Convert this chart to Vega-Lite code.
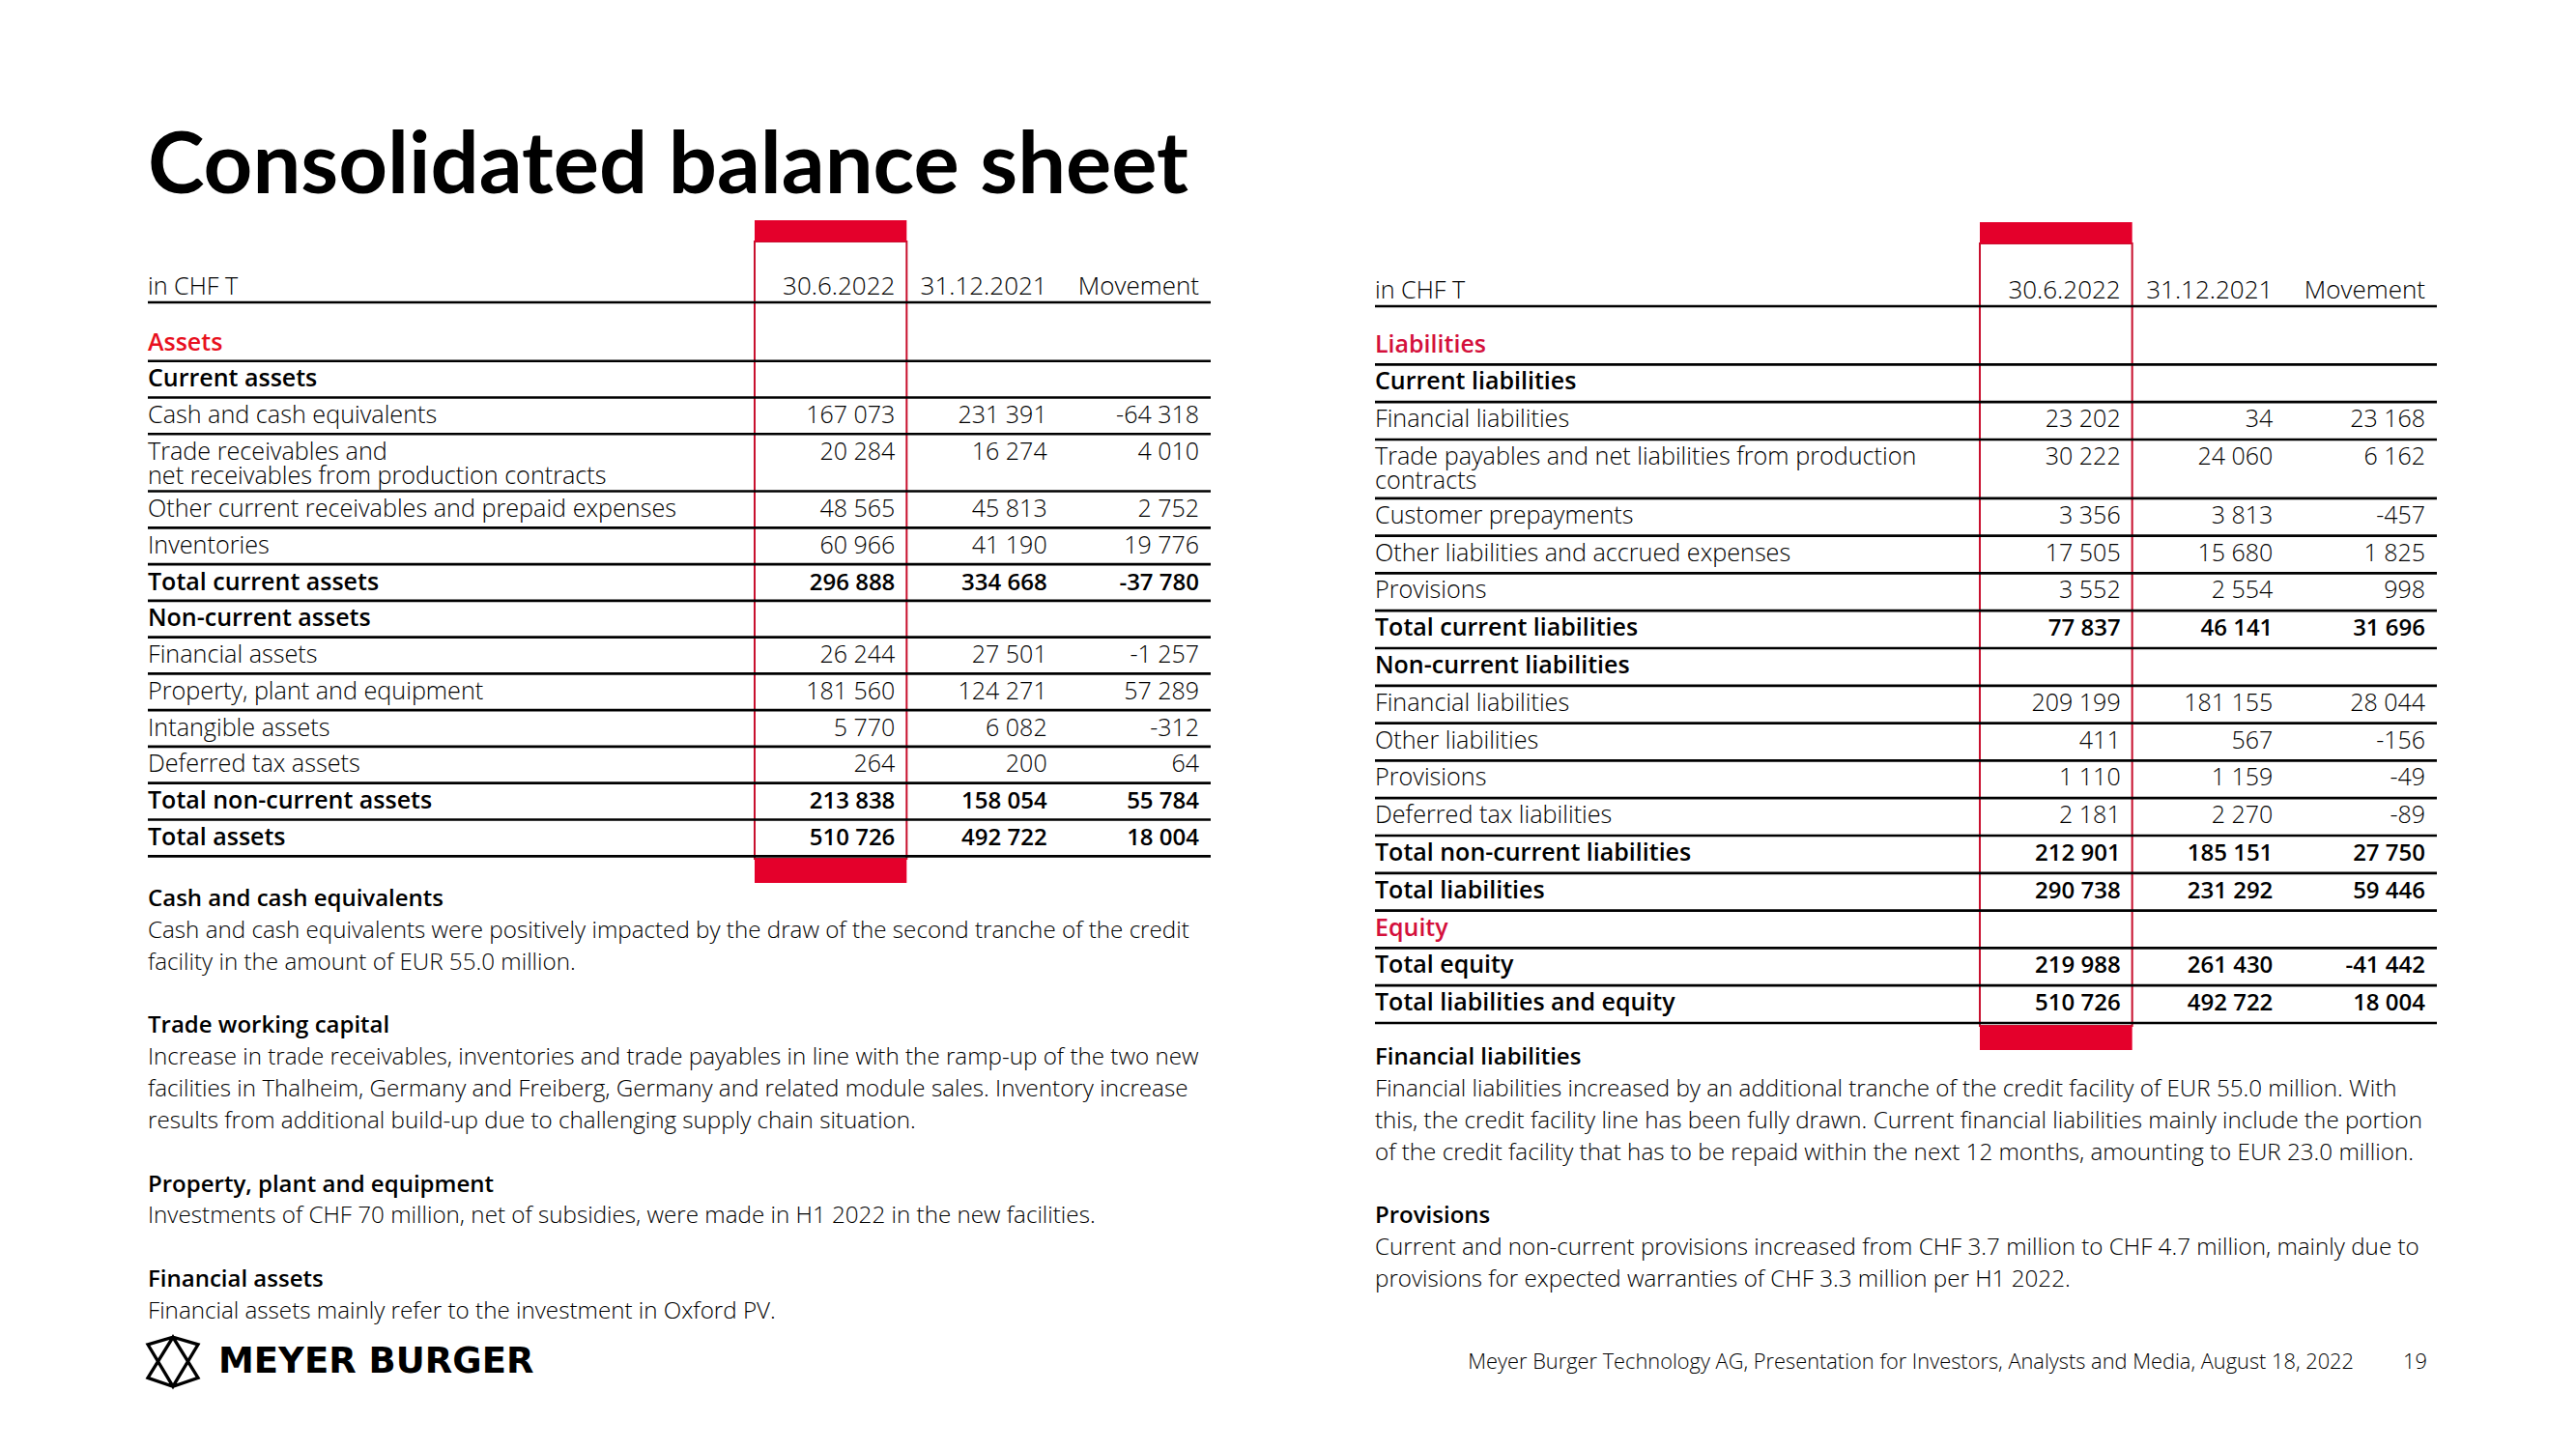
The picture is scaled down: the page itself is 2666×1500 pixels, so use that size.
{
  "$schema": "https://vega.github.io/schema/vega-lite/v6.json",
  "width": 2666,
  "height": 1500,
  "autosize": {"type": "fit", "contains": "padding"},
  "padding": 0,
  "background": "#ffffff",
  "config": {
    "view": {"stroke": null},
    "text": {"font": "Open Sans"},
    "locale": {"number": {"decimal": ".", "thousands": " ", "grouping": [3], "currency": ["", ""], "minus": "-"}}
  },
  "datasets": {
    "assets": [
      {"row": -1, "label": "in CHF T", "kind": "header"},
      {"row": 0, "label": "Assets", "kind": "section"},
      {"row": 1, "label": "Current assets", "kind": "group"},
      {"row": 2, "label": "Cash and cash equivalents", "kind": "item", "jun22": 167073, "dec21": 231391, "movement": -64318},
      {"row": 3, "label": "Trade receivables and\nnet receivables from production contracts", "kind": "item", "jun22": 20284, "dec21": 16274, "movement": 4010},
      {"row": 4, "label": "Other current receivables and prepaid expenses", "kind": "item", "jun22": 48565, "dec21": 45813, "movement": 2752},
      {"row": 5, "label": "Inventories", "kind": "item", "jun22": 60966, "dec21": 41190, "movement": 19776},
      {"row": 6, "label": "Total current assets", "kind": "total", "jun22": 296888, "dec21": 334668, "movement": -37780},
      {"row": 7, "label": "Non-current assets", "kind": "group"},
      {"row": 8, "label": "Financial assets", "kind": "item", "jun22": 26244, "dec21": 27501, "movement": -1257},
      {"row": 9, "label": "Property, plant and equipment", "kind": "item", "jun22": 181560, "dec21": 124271, "movement": 57289},
      {"row": 10, "label": "Intangible assets", "kind": "item", "jun22": 5770, "dec21": 6082, "movement": -312},
      {"row": 11, "label": "Deferred tax assets", "kind": "item", "jun22": 264, "dec21": 200, "movement": 64},
      {"row": 12, "label": "Total non-current assets", "kind": "total", "jun22": 213838, "dec21": 158054, "movement": 55784},
      {"row": 13, "label": "Total assets", "kind": "total", "jun22": 510726, "dec21": 492722, "movement": 18004}
    ],
    "liabilities": [
      {"row": -1, "label": "in CHF T", "kind": "header"},
      {"row": 0, "label": "Liabilities", "kind": "section"},
      {"row": 1, "label": "Current liabilities", "kind": "group"},
      {"row": 2, "label": "Financial liabilities", "kind": "item", "jun22": 23202, "dec21": 34, "movement": 23168},
      {"row": 3, "label": "Trade payables and net liabilities from production\ncontracts", "kind": "item", "jun22": 30222, "dec21": 24060, "movement": 6162},
      {"row": 4, "label": "Customer prepayments", "kind": "item", "jun22": 3356, "dec21": 3813, "movement": -457},
      {"row": 5, "label": "Other liabilities and accrued expenses", "kind": "item", "jun22": 17505, "dec21": 15680, "movement": 1825},
      {"row": 6, "label": "Provisions", "kind": "item", "jun22": 3552, "dec21": 2554, "movement": 998},
      {"row": 7, "label": "Total current liabilities", "kind": "total", "jun22": 77837, "dec21": 46141, "movement": 31696},
      {"row": 8, "label": "Non-current liabilities", "kind": "group"},
      {"row": 9, "label": "Financial liabilities", "kind": "item", "jun22": 209199, "dec21": 181155, "movement": 28044},
      {"row": 10, "label": "Other liabilities", "kind": "item", "jun22": 411, "dec21": 567, "movement": -156},
      {"row": 11, "label": "Provisions", "kind": "item", "jun22": 1110, "dec21": 1159, "movement": -49},
      {"row": 12, "label": "Deferred tax liabilities", "kind": "item", "jun22": 2181, "dec21": 2270, "movement": -89},
      {"row": 13, "label": "Total non-current liabilities", "kind": "total", "jun22": 212901, "dec21": 185151, "movement": 27750},
      {"row": 14, "label": "Total liabilities", "kind": "total", "jun22": 290738, "dec21": 231292, "movement": 59446},
      {"row": 15, "label": "Equity", "kind": "section"},
      {"row": 16, "label": "Total equity", "kind": "total", "jun22": 219988, "dec21": 261430, "movement": -41442},
      {"row": 17, "label": "Total liabilities and equity", "kind": "total", "jun22": 510726, "dec21": 492722, "movement": 18004}
    ],
    "columns": [
      {"col": "jun22", "title": "30.6.2022"},
      {"col": "dec21", "title": "31.12.2021"},
      {"col": "movement", "title": "Movement"}
    ],
    "notes": [
      {"side": "left", "line": 0, "kind": "head", "text": "Cash and cash equivalents"},
      {"side": "left", "line": 1, "kind": "body", "text": "Cash and cash equivalents were positively impacted by the draw of the second tranche of the credit"},
      {"side": "left", "line": 2, "kind": "body", "text": "facility in the amount of EUR 55.0 million."},
      {"side": "left", "line": 4, "kind": "head", "text": "Trade working capital"},
      {"side": "left", "line": 5, "kind": "body", "text": "Increase in trade receivables, inventories and trade payables in line with the ramp-up of the two new"},
      {"side": "left", "line": 6, "kind": "body", "text": "facilities in Thalheim, Germany and Freiberg, Germany and related module sales. Inventory increase"},
      {"side": "left", "line": 7, "kind": "body", "text": "results from additional build-up due to challenging supply chain situation."},
      {"side": "left", "line": 9, "kind": "head", "text": "Property, plant and equipment"},
      {"side": "left", "line": 10, "kind": "body", "text": "Investments of CHF 70 million, net of subsidies, were made in H1 2022 in the new facilities."},
      {"side": "left", "line": 12, "kind": "head", "text": "Financial assets"},
      {"side": "left", "line": 13, "kind": "body", "text": "Financial assets mainly refer to the investment in Oxford PV."},
      {"side": "right", "line": 5, "kind": "head", "text": "Financial liabilities"},
      {"side": "right", "line": 6, "kind": "body", "text": "Financial liabilities increased by an additional tranche of the credit facility of EUR 55.0 million. With"},
      {"side": "right", "line": 7, "kind": "body", "text": "this, the credit facility line has been fully drawn. Current financial liabilities mainly include the portion"},
      {"side": "right", "line": 8, "kind": "body", "text": "of the credit facility that has to be repaid within the next 12 months, amounting to EUR 23.0 million."},
      {"side": "right", "line": 10, "kind": "head", "text": "Provisions"},
      {"side": "right", "line": 11, "kind": "body", "text": "Current and non-current provisions increased from CHF 3.7 million to CHF 4.7 million, mainly due to"},
      {"side": "right", "line": 12, "kind": "body", "text": "provisions for expected warranties of CHF 3.3 million per H1 2022."}
    ],
    "page": [
      {"part": "title", "text": "Consolidated balance sheet"},
      {"part": "logo", "text": ""},
      {"part": "brand", "text": "MEYER BURGER"},
      {"part": "credit", "text": "Meyer Burger Technology AG, Presentation for Investors, Analysts and Media, August 18, 2022"},
      {"part": "page", "text": "19"}
    ]
  },
  "resolve": {"scale": {"x": "independent", "y": "independent"}},
  "layer": [
    {
      "data": {"values": [{}]},
      "mark": {"type": "rect", "fillOpacity": 0, "stroke": "#C8102E", "strokeWidth": 2},
      "encoding": {
        "x": {"datum": "jun22", "type": "nominal", "axis": null, "scale": {"type": "band", "domain": ["jun22", "dec21", "movement"], "range": [781, 1253], "paddingInner": 0, "paddingOuter": 0}},
        "y": {"datum": -1.94, "type": "quantitative", "axis": null, "scale": {"type": "linear", "domain": [-1, 0, 3, 4, 13], "range": [304.5, 362.5, 475.75, 535, 875], "nice": false, "zero": false}},
        "y2": {"datum": 13.37}
      }
    },
    {
      "data": {"values": [{}]},
      "mark": {"type": "rect", "color": "#E4002B"},
      "encoding": {
        "x": {"datum": "jun22", "type": "nominal", "axis": null, "scale": {"type": "band", "domain": ["jun22", "dec21", "movement"], "range": [781, 1253], "paddingInner": 0, "paddingOuter": 0}},
        "y": {"datum": -2.32, "type": "quantitative", "axis": null, "scale": {"type": "linear", "domain": [-1, 0, 3, 4, 13], "range": [304.5, 362.5, 475.75, 535, 875], "nice": false, "zero": false}},
        "y2": {"datum": -1.94}
      }
    },
    {
      "data": {"values": [{}]},
      "mark": {"type": "rect", "color": "#E4002B"},
      "encoding": {
        "x": {"datum": "jun22", "type": "nominal", "axis": null, "scale": {"type": "band", "domain": ["jun22", "dec21", "movement"], "range": [781, 1253], "paddingInner": 0, "paddingOuter": 0}},
        "y": {"datum": 13.37, "type": "quantitative", "axis": null, "scale": {"type": "linear", "domain": [-1, 0, 3, 4, 13], "range": [304.5, 362.5, 475.75, 535, 875], "nice": false, "zero": false}},
        "y2": {"datum": 14.03}
      }
    },
    {
      "data": {"name": "assets"},
      "transform": [{"filter": "datum.row >= 1"}],
      "mark": {"type": "rule", "strokeWidth": 2.7, "color": "#000000", "yOffset": -26.5},
      "encoding": {
        "x": {"datum": 0, "type": "quantitative", "axis": null, "scale": {"type": "linear", "domain": [0, 7], "range": [153, 1253], "nice": false, "zero": false}},
        "x2": {"datum": 7},
        "y": {"field": "row", "type": "quantitative", "axis": null, "scale": {"type": "linear", "domain": [-1, 0, 3, 4, 13], "range": [304.5, 362.5, 475.75, 535, 875], "nice": false, "zero": false}}
      }
    },
    {
      "data": {"values": [{}]},
      "mark": {"type": "rule", "strokeWidth": 2.7, "color": "#000000", "yOffset": 8.5},
      "encoding": {
        "x": {"datum": 0, "type": "quantitative", "axis": null, "scale": {"type": "linear", "domain": [0, 7], "range": [153, 1253], "nice": false, "zero": false}},
        "x2": {"datum": 7},
        "y": {"datum": -1, "type": "quantitative", "axis": null, "scale": {"type": "linear", "domain": [-1, 0, 3, 4, 13], "range": [304.5, 362.5, 475.75, 535, 875], "nice": false, "zero": false}}
      }
    },
    {
      "data": {"values": [{}]},
      "mark": {"type": "rule", "strokeWidth": 2.7, "color": "#000000", "yOffset": -26.5},
      "encoding": {
        "x": {"datum": 0, "type": "quantitative", "axis": null, "scale": {"type": "linear", "domain": [0, 7], "range": [153, 1253], "nice": false, "zero": false}},
        "x2": {"datum": 7},
        "y": {"datum": 14, "type": "quantitative", "axis": null, "scale": {"type": "linear", "domain": [-1, 0, 3, 4, 13], "range": [304.5, 362.5, 475.75, 535, 875], "nice": false, "zero": false}}
      }
    },
    {
      "data": {"name": "assets"},
      "transform": [{"filter": "datum.kind === 'item' || datum.kind === 'header'"}],
      "mark": {"type": "text", "align": "left", "baseline": "alphabetic", "font": "Open Sans", "fontSize": 25.2, "fontWeight": 300, "lineBreak": "\n", "lineHeight": 25, "color": "#000000"},
      "encoding": {
        "x": {"datum": 0, "type": "quantitative", "axis": null, "scale": {"type": "linear", "domain": [0, 7], "range": [153, 1253], "nice": false, "zero": false}},
        "y": {"field": "row", "type": "quantitative", "axis": null, "scale": {"type": "linear", "domain": [-1, 0, 3, 4, 13], "range": [304.5, 362.5, 475.75, 535, 875], "nice": false, "zero": false}},
        "text": {"field": "label"}
      }
    },
    {
      "data": {"name": "assets"},
      "transform": [{"filter": "datum.kind === 'section' || datum.kind === 'group' || datum.kind === 'total'"}],
      "mark": {"type": "text", "align": "left", "baseline": "alphabetic", "font": "Open Sans", "fontSize": 25, "fontWeight": 600},
      "encoding": {
        "x": {"datum": 0, "type": "quantitative", "axis": null, "scale": {"type": "linear", "domain": [0, 7], "range": [153, 1253], "nice": false, "zero": false}},
        "y": {"field": "row", "type": "quantitative", "axis": null, "scale": {"type": "linear", "domain": [-1, 0, 3, 4, 13], "range": [304.5, 362.5, 475.75, 535, 875], "nice": false, "zero": false}},
        "text": {"field": "label"},
        "color": {"condition": {"test": "datum.kind === 'section'", "value": "#E8101E"}, "value": "#000000"}
      }
    },
    {
      "data": {"name": "columns"},
      "mark": {"type": "text", "align": "right", "baseline": "alphabetic", "font": "Open Sans", "fontSize": 26, "fontWeight": 300, "dx": -12, "color": "#000000"},
      "encoding": {
        "x": {"field": "col", "type": "nominal", "bandPosition": 1, "axis": null, "scale": {"type": "band", "domain": ["jun22", "dec21", "movement"], "range": [781, 1253], "paddingInner": 0, "paddingOuter": 0}},
        "y": {"datum": -1, "type": "quantitative", "axis": null, "scale": {"type": "linear", "domain": [-1, 0, 3, 4, 13], "range": [304.5, 362.5, 475.75, 535, 875], "nice": false, "zero": false}},
        "text": {"field": "title"}
      }
    },
    {
      "data": {"name": "assets"},
      "transform": [{"fold": ["jun22", "dec21", "movement"], "as": ["col", "amount"]}, {"filter": "isValid(datum.amount) && datum.kind !== 'total'"}],
      "mark": {"type": "text", "align": "right", "baseline": "alphabetic", "font": "Open Sans", "fontSize": 25, "fontWeight": 300, "dx": -12, "color": "#000000"},
      "encoding": {
        "x": {"field": "col", "type": "nominal", "bandPosition": 1, "axis": null, "scale": {"type": "band", "domain": ["jun22", "dec21", "movement"], "range": [781, 1253], "paddingInner": 0, "paddingOuter": 0}},
        "y": {"field": "row", "type": "quantitative", "axis": null, "scale": {"type": "linear", "domain": [-1, 0, 3, 4, 13], "range": [304.5, 362.5, 475.75, 535, 875], "nice": false, "zero": false}},
        "text": {"field": "amount", "type": "quantitative", "format": ",d"}
      }
    },
    {
      "data": {"name": "assets"},
      "transform": [{"fold": ["jun22", "dec21", "movement"], "as": ["col", "amount"]}, {"filter": "isValid(datum.amount) && datum.kind === 'total'"}],
      "mark": {"type": "text", "align": "right", "baseline": "alphabetic", "font": "Open Sans", "fontSize": 24, "fontWeight": 600, "dx": -12, "color": "#000000"},
      "encoding": {
        "x": {"field": "col", "type": "nominal", "bandPosition": 1, "axis": null, "scale": {"type": "band", "domain": ["jun22", "dec21", "movement"], "range": [781, 1253], "paddingInner": 0, "paddingOuter": 0}},
        "y": {"field": "row", "type": "quantitative", "axis": null, "scale": {"type": "linear", "domain": [-1, 0, 3, 4, 13], "range": [304.5, 362.5, 475.75, 535, 875], "nice": false, "zero": false}},
        "text": {"field": "amount", "type": "quantitative", "format": ",d"}
      }
    },
    {
      "data": {"values": [{}]},
      "mark": {"type": "rect", "fillOpacity": 0, "stroke": "#C8102E", "strokeWidth": 2},
      "encoding": {
        "x": {"datum": "jun22", "type": "nominal", "axis": null, "scale": {"type": "band", "domain": ["jun22", "dec21", "movement"], "range": [2049, 2522], "paddingInner": 0, "paddingOuter": 0}},
        "y": {"datum": -2.01, "type": "quantitative", "axis": null, "scale": {"type": "linear", "domain": [-1, 0, 3, 4, 17], "range": [308.5, 364.5, 481, 541.8, 1046.2], "nice": false, "zero": false}},
        "y2": {"datum": 17.41}
      }
    },
    {
      "data": {"values": [{}]},
      "mark": {"type": "rect", "color": "#E4002B"},
      "encoding": {
        "x": {"datum": "jun22", "type": "nominal", "axis": null, "scale": {"type": "band", "domain": ["jun22", "dec21", "movement"], "range": [2049, 2522], "paddingInner": 0, "paddingOuter": 0}},
        "y": {"datum": -2.4, "type": "quantitative", "axis": null, "scale": {"type": "linear", "domain": [-1, 0, 3, 4, 17], "range": [308.5, 364.5, 481, 541.8, 1046.2], "nice": false, "zero": false}},
        "y2": {"datum": -2.01}
      }
    },
    {
      "data": {"values": [{}]},
      "mark": {"type": "rect", "color": "#E4002B"},
      "encoding": {
        "x": {"datum": "jun22", "type": "nominal", "axis": null, "scale": {"type": "band", "domain": ["jun22", "dec21", "movement"], "range": [2049, 2522], "paddingInner": 0, "paddingOuter": 0}},
        "y": {"datum": 17.41, "type": "quantitative", "axis": null, "scale": {"type": "linear", "domain": [-1, 0, 3, 4, 17], "range": [308.5, 364.5, 481, 541.8, 1046.2], "nice": false, "zero": false}},
        "y2": {"datum": 18.05}
      }
    },
    {
      "data": {"name": "liabilities"},
      "transform": [{"filter": "datum.row >= 1"}],
      "mark": {"type": "rule", "strokeWidth": 2.7, "color": "#000000", "yOffset": -26},
      "encoding": {
        "x": {"datum": 0, "type": "quantitative", "axis": null, "scale": {"type": "linear", "domain": [0, 7], "range": [1423, 2522], "nice": false, "zero": false}},
        "x2": {"datum": 7},
        "y": {"field": "row", "type": "quantitative", "axis": null, "scale": {"type": "linear", "domain": [-1, 0, 3, 4, 17], "range": [308.5, 364.5, 481, 541.8, 1046.2], "nice": false, "zero": false}}
      }
    },
    {
      "data": {"values": [{}]},
      "mark": {"type": "rule", "strokeWidth": 2.7, "color": "#000000", "yOffset": 8.5},
      "encoding": {
        "x": {"datum": 0, "type": "quantitative", "axis": null, "scale": {"type": "linear", "domain": [0, 7], "range": [1423, 2522], "nice": false, "zero": false}},
        "x2": {"datum": 7},
        "y": {"datum": -1, "type": "quantitative", "axis": null, "scale": {"type": "linear", "domain": [-1, 0, 3, 4, 17], "range": [308.5, 364.5, 481, 541.8, 1046.2], "nice": false, "zero": false}}
      }
    },
    {
      "data": {"values": [{}]},
      "mark": {"type": "rule", "strokeWidth": 2.7, "color": "#000000", "yOffset": -26},
      "encoding": {
        "x": {"datum": 0, "type": "quantitative", "axis": null, "scale": {"type": "linear", "domain": [0, 7], "range": [1423, 2522], "nice": false, "zero": false}},
        "x2": {"datum": 7},
        "y": {"datum": 18, "type": "quantitative", "axis": null, "scale": {"type": "linear", "domain": [-1, 0, 3, 4, 17], "range": [308.5, 364.5, 481, 541.8, 1046.2], "nice": false, "zero": false}}
      }
    },
    {
      "data": {"name": "liabilities"},
      "transform": [{"filter": "datum.kind === 'item' || datum.kind === 'header'"}],
      "mark": {"type": "text", "align": "left", "baseline": "alphabetic", "font": "Open Sans", "fontSize": 25.2, "fontWeight": 300, "lineBreak": "\n", "lineHeight": 25, "color": "#000000"},
      "encoding": {
        "x": {"datum": 0, "type": "quantitative", "axis": null, "scale": {"type": "linear", "domain": [0, 7], "range": [1423, 2522], "nice": false, "zero": false}},
        "y": {"field": "row", "type": "quantitative", "axis": null, "scale": {"type": "linear", "domain": [-1, 0, 3, 4, 17], "range": [308.5, 364.5, 481, 541.8, 1046.2], "nice": false, "zero": false}},
        "text": {"field": "label"}
      }
    },
    {
      "data": {"name": "liabilities"},
      "transform": [{"filter": "datum.kind === 'section' || datum.kind === 'group' || datum.kind === 'total'"}],
      "mark": {"type": "text", "align": "left", "baseline": "alphabetic", "font": "Open Sans", "fontSize": 25, "fontWeight": 600},
      "encoding": {
        "x": {"datum": 0, "type": "quantitative", "axis": null, "scale": {"type": "linear", "domain": [0, 7], "range": [1423, 2522], "nice": false, "zero": false}},
        "y": {"field": "row", "type": "quantitative", "axis": null, "scale": {"type": "linear", "domain": [-1, 0, 3, 4, 17], "range": [308.5, 364.5, 481, 541.8, 1046.2], "nice": false, "zero": false}},
        "text": {"field": "label"},
        "color": {"condition": {"test": "datum.kind === 'section'", "value": "#D4103C"}, "value": "#000000"}
      }
    },
    {
      "data": {"name": "columns"},
      "mark": {"type": "text", "align": "right", "baseline": "alphabetic", "font": "Open Sans", "fontSize": 26, "fontWeight": 300, "dx": -12, "color": "#000000"},
      "encoding": {
        "x": {"field": "col", "type": "nominal", "bandPosition": 1, "axis": null, "scale": {"type": "band", "domain": ["jun22", "dec21", "movement"], "range": [2049, 2522], "paddingInner": 0, "paddingOuter": 0}},
        "y": {"datum": -1, "type": "quantitative", "axis": null, "scale": {"type": "linear", "domain": [-1, 0, 3, 4, 17], "range": [308.5, 364.5, 481, 541.8, 1046.2], "nice": false, "zero": false}},
        "text": {"field": "title"}
      }
    },
    {
      "data": {"name": "liabilities"},
      "transform": [{"fold": ["jun22", "dec21", "movement"], "as": ["col", "amount"]}, {"filter": "isValid(datum.amount) && datum.kind !== 'total'"}],
      "mark": {"type": "text", "align": "right", "baseline": "alphabetic", "font": "Open Sans", "fontSize": 25, "fontWeight": 300, "dx": -12, "color": "#000000"},
      "encoding": {
        "x": {"field": "col", "type": "nominal", "bandPosition": 1, "axis": null, "scale": {"type": "band", "domain": ["jun22", "dec21", "movement"], "range": [2049, 2522], "paddingInner": 0, "paddingOuter": 0}},
        "y": {"field": "row", "type": "quantitative", "axis": null, "scale": {"type": "linear", "domain": [-1, 0, 3, 4, 17], "range": [308.5, 364.5, 481, 541.8, 1046.2], "nice": false, "zero": false}},
        "text": {"field": "amount", "type": "quantitative", "format": ",d"}
      }
    },
    {
      "data": {"name": "liabilities"},
      "transform": [{"fold": ["jun22", "dec21", "movement"], "as": ["col", "amount"]}, {"filter": "isValid(datum.amount) && datum.kind === 'total'"}],
      "mark": {"type": "text", "align": "right", "baseline": "alphabetic", "font": "Open Sans", "fontSize": 24, "fontWeight": 600, "dx": -12, "color": "#000000"},
      "encoding": {
        "x": {"field": "col", "type": "nominal", "bandPosition": 1, "axis": null, "scale": {"type": "band", "domain": ["jun22", "dec21", "movement"], "range": [2049, 2522], "paddingInner": 0, "paddingOuter": 0}},
        "y": {"field": "row", "type": "quantitative", "axis": null, "scale": {"type": "linear", "domain": [-1, 0, 3, 4, 17], "range": [308.5, 364.5, 481, 541.8, 1046.2], "nice": false, "zero": false}},
        "text": {"field": "amount", "type": "quantitative", "format": ",d"}
      }
    },
    {
      "data": {"name": "notes"},
      "transform": [{"filter": "datum.kind === 'body'"}],
      "mark": {"type": "text", "align": "left", "baseline": "middle", "font": "Open Sans", "fontSize": 24.2, "fontWeight": 300, "color": "#000000"},
      "encoding": {
        "x": {"field": "side", "type": "nominal", "axis": null, "scale": {"type": "point", "domain": ["left", "right"], "range": [153, 1423], "padding": 0}},
        "y": {"field": "line", "type": "quantitative", "axis": null, "scale": {"type": "linear", "domain": [0, 13], "range": [931, 1358], "nice": false, "zero": false}},
        "text": {"field": "text"}
      }
    },
    {
      "data": {"name": "notes"},
      "transform": [{"filter": "datum.kind === 'head'"}],
      "mark": {"type": "text", "align": "left", "baseline": "middle", "font": "Open Sans", "fontSize": 24, "fontWeight": 600, "color": "#000000"},
      "encoding": {
        "x": {"field": "side", "type": "nominal", "axis": null, "scale": {"type": "point", "domain": ["left", "right"], "range": [153, 1423], "padding": 0}},
        "y": {"field": "line", "type": "quantitative", "axis": null, "scale": {"type": "linear", "domain": [0, 13], "range": [931, 1358], "nice": false, "zero": false}},
        "text": {"field": "text"}
      }
    },
    {
      "data": {"name": "page"},
      "transform": [{"filter": "datum.part === 'title'"}],
      "mark": {"type": "text", "align": "left", "baseline": "alphabetic", "font": "Lato", "fontSize": 88.5, "fontWeight": "bold", "color": "#000000"},
      "encoding": {
        "x": {"datum": 0, "type": "quantitative", "axis": null, "scale": {"type": "linear", "domain": [0, 1], "range": [153, 2522], "nice": false, "zero": false}},
        "y": {"datum": 0, "type": "quantitative", "axis": null, "scale": {"type": "linear", "domain": [0, 1], "range": [200, 1410], "nice": false, "zero": false}},
        "text": {"field": "text"}
      }
    },
    {
      "data": {"name": "page"},
      "transform": [{"filter": "datum.part === 'logo'"}],
      "mark": {"type": "point", "filled": false, "stroke": "#000000", "strokeWidth": 3.3, "size": 2704, "opacity": 1, "strokeJoin": "miter", "shape": "M0,-0.7 L1,-0.99 L2,-0.7 L1,0.97 Z M0,0.63 L1,0.97 L2,0.63 L1,-0.99 Z"},
      "encoding": {
        "x": {"datum": 0, "type": "quantitative", "axis": null, "scale": {"type": "linear", "domain": [0, 1], "range": [153, 2522], "nice": false, "zero": false}},
        "y": {"datum": 1, "type": "quantitative", "axis": null, "scale": {"type": "linear", "domain": [0, 1], "range": [200, 1410], "nice": false, "zero": false}}
      }
    },
    {
      "data": {"name": "page"},
      "transform": [{"filter": "datum.part === 'brand'"}],
      "mark": {"type": "text", "align": "left", "baseline": "middle", "font": "DejaVu Sans", "fontSize": 37, "fontWeight": "bold", "dx": 73, "color": "#000000"},
      "encoding": {
        "x": {"datum": 0, "type": "quantitative", "axis": null, "scale": {"type": "linear", "domain": [0, 1], "range": [153, 2522], "nice": false, "zero": false}},
        "y": {"datum": 1, "type": "quantitative", "axis": null, "scale": {"type": "linear", "domain": [0, 1], "range": [200, 1410], "nice": false, "zero": false}},
        "text": {"field": "text"}
      }
    },
    {
      "data": {"name": "page"},
      "transform": [{"filter": "datum.part === 'credit'"}],
      "mark": {"type": "text", "align": "right", "baseline": "middle", "font": "Open Sans", "fontSize": 21.8, "fontWeight": 300, "dx": -86, "color": "#000000"},
      "encoding": {
        "x": {"datum": 1, "type": "quantitative", "axis": null, "scale": {"type": "linear", "domain": [0, 1], "range": [153, 2522], "nice": false, "zero": false}},
        "y": {"datum": 1, "type": "quantitative", "axis": null, "scale": {"type": "linear", "domain": [0, 1], "range": [200, 1410], "nice": false, "zero": false}},
        "text": {"field": "text"}
      }
    },
    {
      "data": {"name": "page"},
      "transform": [{"filter": "datum.part === 'page'"}],
      "mark": {"type": "text", "align": "right", "baseline": "middle", "font": "Open Sans", "fontSize": 21.8, "fontWeight": 300, "dx": -10, "color": "#000000"},
      "encoding": {
        "x": {"datum": 1, "type": "quantitative", "axis": null, "scale": {"type": "linear", "domain": [0, 1], "range": [153, 2522], "nice": false, "zero": false}},
        "y": {"datum": 1, "type": "quantitative", "axis": null, "scale": {"type": "linear", "domain": [0, 1], "range": [200, 1410], "nice": false, "zero": false}},
        "text": {"field": "text"}
      }
    }
  ]
}
